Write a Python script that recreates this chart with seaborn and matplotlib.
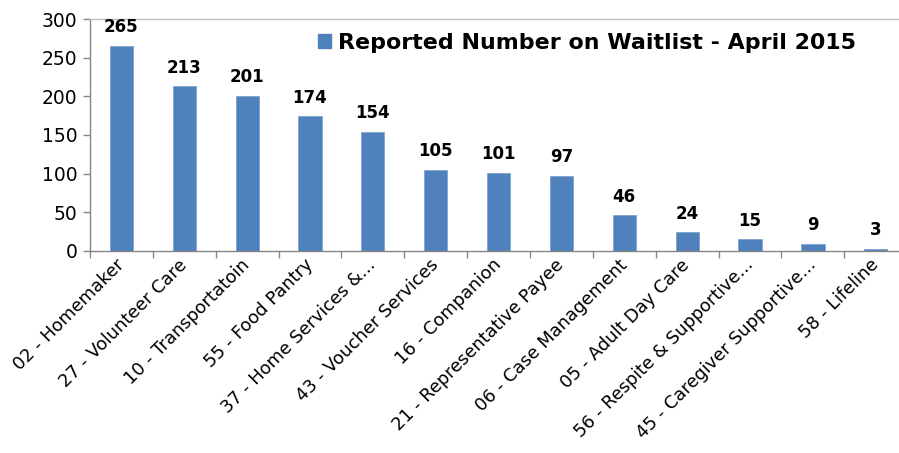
import matplotlib
matplotlib.use("Agg")
import matplotlib.pyplot as plt
from matplotlib.patches import Patch
import seaborn as sns
import numpy as np

services = [
    "02 - Homemaker", "27 - Volunteer Care", "10 - Transportatoin",
    "55 - Food Pantry", "37 - Home Services &...", "43 - Voucher Services",
    "16 - Companion", "21 - Representative Payee", "06 - Case Management",
    "05 - Adult Day Care", "56 - Respite & Supportive...",
    "45 - Caregiver Supportive...", "58 - Lifeline",
]
waitlist = [265, 213, 201, 174, 154, 105, 101, 97, 46, 24, 15, 9, 3]
series_name = "Reported Number on Waitlist - April 2015"

BAR = "#4F81BD"
AXIS = "#868686"

sns.set_style("white")
plt.rcParams["font.family"] = ["DejaVu Sans"]
plt.rcParams["text.color"] = "black"
plt.rcParams["xtick.color"] = "black"
plt.rcParams["ytick.color"] = "black"

fig = plt.figure(figsize=(8.99, 4.53), dpi=100)
ax = fig.add_axes([0.1001, 0.446, 0.909, 0.512])

sns.barplot(x=services, y=waitlist, color=BAR, width=0.37, ax=ax,
            edgecolor="#7FA3D1", linewidth=0.6, saturation=1)

ax.set_ylim(0, 300)
ax.set_xlim(-0.5, len(services) - 0.5)
ax.set_yticks(np.arange(0, 301, 50))
ax.tick_params(axis="y", labelsize=13.5, length=5, width=1, color=AXIS,
               labelcolor="black", direction="out", left=True, pad=4)

# category boundaries carry the x ticks, like the original
ax.set_xticks(np.arange(len(services)))
ax.set_xticklabels(services, rotation=45, ha="right", va="center",
                   rotation_mode="anchor", fontsize=12.8)
ax.tick_params(axis="x", which="major", length=0, pad=8, labelcolor="black")
ax.set_xticks(np.arange(-0.5, len(services), 1), minor=True)
ax.tick_params(axis="x", which="minor", length=5, width=1, color=AXIS,
               direction="out", bottom=True)

for side in ["left", "bottom"]:
    ax.spines[side].set_color(AXIS)
    ax.spines[side].set_linewidth(1)
ax.spines["top"].set_color("#BFBFBF")
ax.spines["top"].set_linewidth(1)
ax.spines["right"].set_visible(False)

for i, v in enumerate(waitlist):
    ax.annotate(str(v), (i, v), xytext=(0, 7), textcoords="offset points",
                ha="center", va="bottom", fontsize=12, fontweight="bold",
                color="black")

handle = Patch(facecolor=BAR, edgecolor=BAR)
ax.legend([handle], [series_name], loc="upper left",
          bbox_to_anchor=(0.255, 1.025), frameon=False,
          prop={"size": 15.9, "weight": "bold"},
          handlelength=0.6, handleheight=0.6, handletextpad=0.3,
          labelcolor="black")

ax.set_xlabel("")
ax.set_ylabel("")

fig.savefig("out.png", dpi=100)
